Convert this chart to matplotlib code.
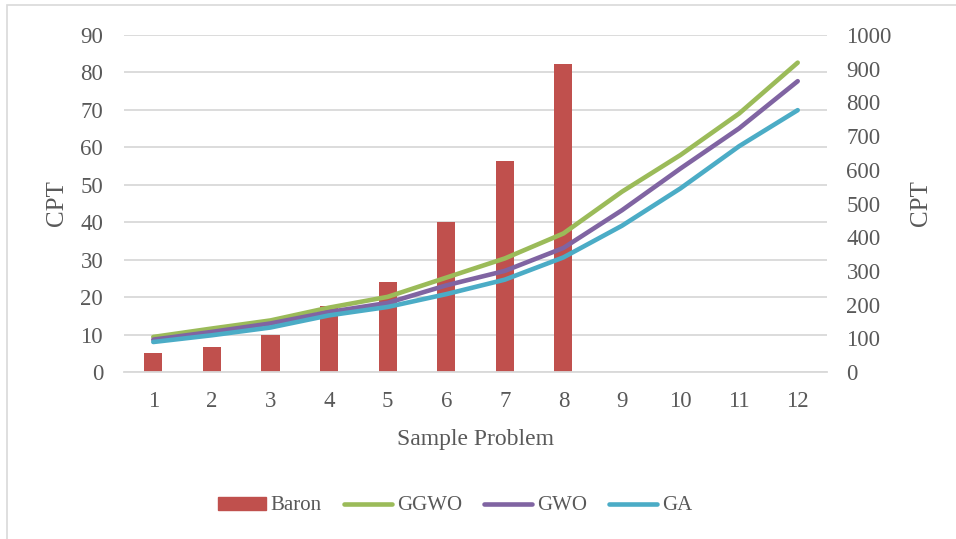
import numpy as np
import matplotlib.pyplot as plt
from matplotlib.lines import Line2D
from matplotlib.patches import Patch

plt.rcParams['font.family'] = ['Liberation Serif', 'DejaVu Serif']

problems = list(range(1, 13))
baron = [5.1, 6.7, 10.0, 17.6, 24.1, 40.0, 56.4, 82.3]
ggwo = [104, 129, 153, 191, 223, 280, 337, 411, 535, 644, 767, 918]
gwo = [96, 119, 144, 178, 205, 257, 300, 368, 480, 604, 723, 863]
ga = [89, 109, 132, 168, 193, 231, 274, 340, 434, 545, 670, 777]

txt = '#595959'
grid = '#D9D9D9'
lw = 3.3

fig = plt.figure(figsize=(9.56, 5.39), dpi=100)
ax = fig.add_axes([124/956, 1-372/539, (827-124)/956, (372-35)/539])
ax2 = ax.twinx()

# chart frame (only left/top visible in the original)
fig.add_artist(plt.Rectangle((7/956, -0.1), 1.2, 1-5/539+0.1, transform=fig.transFigure,
                             fill=False, edgecolor=grid, linewidth=1.2))

ax.bar(problems[:len(baron)], baron, width=0.31, color='#C0504D', zorder=2)
ax.set_ylim(0, 90)
ax.set_yticks(range(0, 91, 10))
ax.set_xlim(0.5, 12.5)
ax.set_xticks(problems)
ax.yaxis.grid(True, color=grid, linewidth=1.3)
ax.set_axisbelow(True)

for vals, col in ((ggwo, '#9BBB59'), (gwo, '#8064A2'), (ga, '#4BACC6')):
    ax2.plot(problems, vals, color=col, linewidth=lw, solid_capstyle='round',
             solid_joinstyle='round', zorder=3)
ax2.set_ylim(0, 1000)
ax2.set_yticks(range(0, 1001, 100))

for a in (ax, ax2):
    for s in a.spines.values():
        s.set_visible(False)
    a.tick_params(length=0, labelsize=16.5, labelcolor=txt)
ax.spines['bottom'].set_visible(True)
ax.spines['bottom'].set_color(grid)
ax.spines['bottom'].set_linewidth(1.3)
ax.tick_params(axis='y', pad=15)
ax.tick_params(axis='x', pad=14)
ax2.tick_params(axis='y', pad=14)

ax.set_ylabel('CPT', fontsize=18, color=txt, labelpad=9)
ax2.set_ylabel('CPT', fontsize=18, color=txt, labelpad=13)
ax.set_xlabel('Sample Problem', fontsize=17, color=txt, labelpad=12)

handles = [Patch(color='#C0504D'),
           Line2D([], [], color='#9BBB59', linewidth=lw, solid_capstyle='round'),
           Line2D([], [], color='#8064A2', linewidth=lw, solid_capstyle='round'),
           Line2D([], [], color='#4BACC6', linewidth=lw, solid_capstyle='round')]
fig.legend(handles, ['Baron', 'GGWO', 'GWO', 'GA'], loc='center', bbox_to_anchor=(455/956, 1-506/539),
           ncol=4, frameon=False, fontsize=15, labelcolor=txt, handlelength=2.3,
           handletextpad=0.25, columnspacing=1.05, handleheight=0.6)

fig.savefig('out.png', dpi=100)
